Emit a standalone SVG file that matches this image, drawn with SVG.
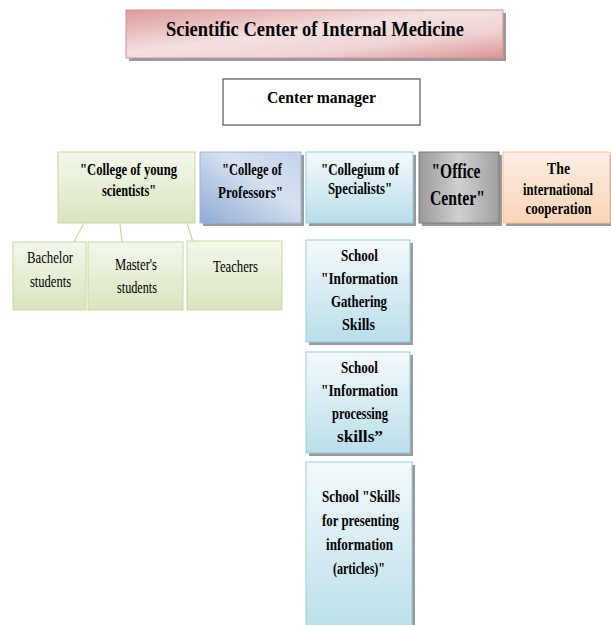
<svg xmlns="http://www.w3.org/2000/svg" width="611" height="625" viewBox="0 0 611 625" font-family="'Liberation Serif', 'Times New Roman', 'DejaVu Serif', serif">
<defs>
<linearGradient id="gPink" x1="0" y1="0" x2="1" y2="1">
<stop offset="0" stop-color="#dc9a99"/><stop offset="0.45" stop-color="#f4e0e0"/><stop offset="0.7" stop-color="#f0d4d4"/><stop offset="1" stop-color="#d99594"/>
</linearGradient>
<linearGradient id="gGreen" x1="0" y1="0" x2="0" y2="1">
<stop offset="0" stop-color="#f4f8ec"/><stop offset="1" stop-color="#d8e5bf"/>
</linearGradient>
<linearGradient id="gBlue" x1="0" y1="1" x2="1" y2="0">
<stop offset="0" stop-color="#8eaad4"/><stop offset="0.6" stop-color="#d6e1f0"/><stop offset="1" stop-color="#c3d3e9"/>
</linearGradient>
<linearGradient id="gAqua" x1="0" y1="0" x2="0" y2="1">
<stop offset="0" stop-color="#f4fafc"/><stop offset="1" stop-color="#b9deea"/>
</linearGradient>
<linearGradient id="gGray" x1="0" y1="0" x2="1" y2="0">
<stop offset="0" stop-color="#9a9a9a"/><stop offset="0.5" stop-color="#d0d0d0"/><stop offset="1" stop-color="#a0a0a0"/>
</linearGradient>
<linearGradient id="gPeach" x1="0" y1="0" x2="0" y2="1">
<stop offset="0" stop-color="#fdeee3"/><stop offset="1" stop-color="#fbd5b8"/>
</linearGradient>
</defs>
<style>
.t{fill:#000;text-anchor:middle}
.b{font-weight:bold;font-size:17.5px}
.r{font-size:16px}
.sh{fill:#9a9a9a}
.conn{stroke:#c8daa6;stroke-width:1.3;fill:none}
</style>
<rect width="611" height="625" fill="#ffffff"/>

<g id="title">
<rect class="sh" x="129" y="13" width="377" height="48"/>
<rect x="126" y="10" width="377" height="48" fill="url(#gPink)" stroke="#d49190" stroke-width="1"/>
<text class="t" x="315" y="36" font-weight="bold" font-size="20" textLength="298" lengthAdjust="spacingAndGlyphs">Scientific Center of Internal Medicine</text>
</g>

<g id="manager">
<rect x="223" y="79" width="197" height="46" fill="#ffffff" stroke="#606060" stroke-width="1.3"/>
<text class="t b" x="321.5" y="103" textLength="109" lengthAdjust="spacingAndGlyphs">Center manager</text>
</g>

<g id="connectors">
<line class="conn" x1="84" y1="223" x2="74" y2="242"/>
<line class="conn" x1="120" y1="223" x2="122" y2="242"/>
<line class="conn" x1="187" y1="223" x2="193" y2="242"/>
</g>

<g id="young">
<rect x="58" y="152" width="137" height="71" fill="url(#gGreen)" stroke="#c6d9a0" stroke-width="1"/>
<text class="t b" x="128.5" y="175" textLength="97" lengthAdjust="spacingAndGlyphs">"College of young</text>
<text class="t b" x="129" y="196" textLength="54" lengthAdjust="spacingAndGlyphs">scientists"</text>
</g>

<g id="professors">
<rect class="sh" x="203" y="155" width="101" height="71"/>
<rect x="200" y="152" width="101" height="71" fill="url(#gBlue)" stroke="#9fb6d8" stroke-width="1"/>
<text class="t b" x="252" y="175" textLength="60" lengthAdjust="spacingAndGlyphs">"College of</text>
<text class="t b" x="250.5" y="198" textLength="65" lengthAdjust="spacingAndGlyphs">Professors"</text>
</g>

<g id="specialists">
<rect class="sh" x="309" y="155" width="107" height="71"/>
<rect x="306" y="152" width="107" height="71" fill="url(#gAqua)" stroke="#95cfe0" stroke-width="1"/>
<text class="t b" x="360" y="175" textLength="78" lengthAdjust="spacingAndGlyphs">"Collegium of</text>
<text class="t b" x="360" y="194" textLength="64" lengthAdjust="spacingAndGlyphs">Specialists"</text>
</g>

<g id="office">
<rect class="sh" x="422" y="155" width="80" height="71"/>
<rect x="419" y="152" width="80" height="71" fill="url(#gGray)" stroke="#7a7a7a" stroke-width="1"/>
<text class="t" x="456" y="178" font-weight="bold" font-size="20" textLength="49" lengthAdjust="spacingAndGlyphs">"Office</text>
<text class="t" x="457.5" y="205" font-weight="bold" font-size="20" textLength="55" lengthAdjust="spacingAndGlyphs">Center"</text>
</g>

<g id="international">
<rect class="sh" x="506" y="155" width="105" height="71"/>
<rect x="503" y="152" width="107" height="71" fill="url(#gPeach)" stroke="#f6c29c" stroke-width="1"/>
<text class="t" x="558.5" y="174" font-weight="bold" font-size="16" textLength="23" lengthAdjust="spacingAndGlyphs">The</text>
<text class="t" x="558" y="195" font-weight="bold" font-size="16" textLength="70" lengthAdjust="spacingAndGlyphs">international</text>
<text class="t" x="558.5" y="214" font-weight="bold" font-size="16" textLength="66" lengthAdjust="spacingAndGlyphs">cooperation</text>
</g>

<g id="bachelor">
<rect x="13" y="242" width="73" height="68" fill="url(#gGreen)" stroke="#c6d9a0" stroke-width="1"/>
<text class="t r" x="50" y="263" textLength="46" lengthAdjust="spacingAndGlyphs">Bachelor</text>
<text class="t r" x="50.5" y="287" textLength="41" lengthAdjust="spacingAndGlyphs">students</text>
</g>

<g id="masters">
<rect x="88" y="242" width="95" height="68" fill="url(#gGreen)" stroke="#c6d9a0" stroke-width="1"/>
<text class="t r" x="136" y="270" textLength="42" lengthAdjust="spacingAndGlyphs">Master's</text>
<text class="t r" x="137" y="293" textLength="40" lengthAdjust="spacingAndGlyphs">students</text>
</g>

<g id="teachers">
<rect x="187" y="241" width="95" height="69" fill="url(#gGreen)" stroke="#c6d9a0" stroke-width="1"/>
<text class="t r" x="235.5" y="272" textLength="45" lengthAdjust="spacingAndGlyphs">Teachers</text>
</g>

<g id="school1">
<rect class="sh" x="309" y="243" width="104" height="102"/>
<rect x="306" y="240" width="104" height="102" fill="url(#gAqua)" stroke="#95cfe0" stroke-width="1"/>
<text class="t b" x="359.5" y="261" textLength="37" lengthAdjust="spacingAndGlyphs">School</text>
<text class="t b" x="359.5" y="284" textLength="77" lengthAdjust="spacingAndGlyphs">"Information</text>
<text class="t b" x="359" y="307" textLength="56" lengthAdjust="spacingAndGlyphs">Gathering</text>
<text class="t b" x="358.5" y="330" textLength="33" lengthAdjust="spacingAndGlyphs">Skills</text>
</g>

<g id="school2">
<rect class="sh" x="309" y="355" width="104" height="101"/>
<rect x="306" y="352" width="104" height="101" fill="url(#gAqua)" stroke="#95cfe0" stroke-width="1"/>
<text class="t b" x="359.5" y="373" textLength="37" lengthAdjust="spacingAndGlyphs">School</text>
<text class="t b" x="359.5" y="396" textLength="77" lengthAdjust="spacingAndGlyphs">"Information</text>
<text class="t b" x="360" y="419" textLength="56" lengthAdjust="spacingAndGlyphs">processing</text>
<text class="t b" x="360" y="442" textLength="46" lengthAdjust="spacingAndGlyphs">skills”</text>
</g>

<g id="school3">
<rect class="sh" x="309" y="465" width="106" height="165"/>
<rect x="306" y="462" width="106" height="170" fill="url(#gAqua)" stroke="#95cfe0" stroke-width="1"/>
<text class="t b" x="361" y="502" textLength="78" lengthAdjust="spacingAndGlyphs">School "Skills</text>
<text class="t b" x="360.5" y="526" textLength="77" lengthAdjust="spacingAndGlyphs">for presenting</text>
<text class="t b" x="359.5" y="550" textLength="67" lengthAdjust="spacingAndGlyphs">information</text>
<text class="t b" x="359" y="574" textLength="52" lengthAdjust="spacingAndGlyphs">(articles)"</text>
</g>
</svg>
